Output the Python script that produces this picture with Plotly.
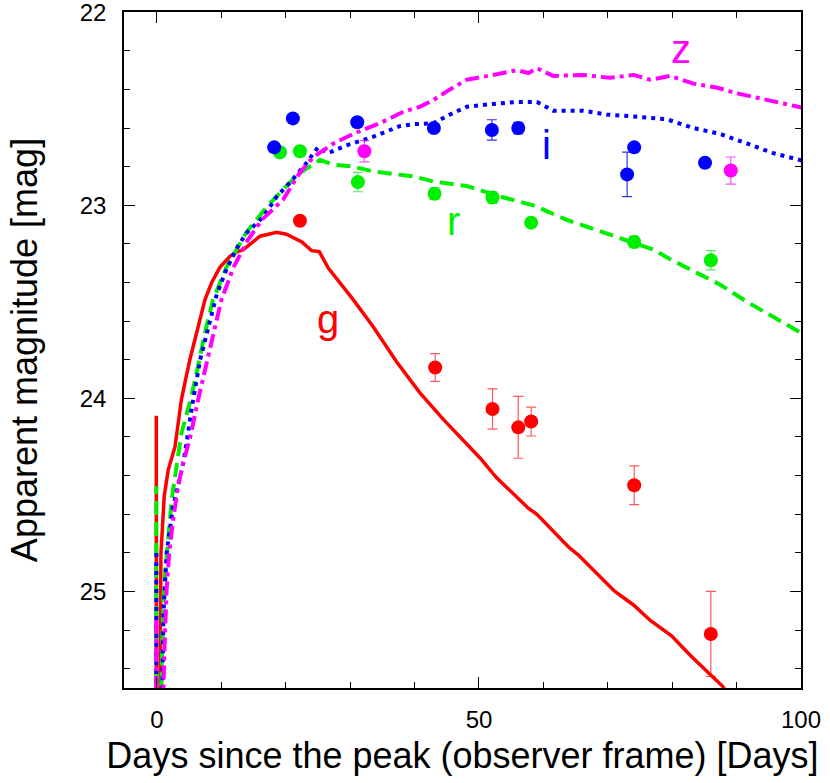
import plotly.graph_objects as go

# ---------------- model light curves (days since peak, apparent magnitude) -------------
g_model_t = [-0.1, -0.1, None, 0.45, 0.5, 0.57, 0.62, 1.13, 1.75, 2.8, 3.8, 5.1, 6.1, 7.45, 8.5, 9.8,
             11.3, 12.1, 13.4, 16.0, 18.6, 20.1, 22.5, 24.0, 25.2, 26.6, 30.5, 33.6, 37.2, 40.8,
             44.5, 46.8, 48.1, 50.2, 52.7, 55.6, 57.7, 59.0, 61.5, 63.9, 65.4, 68.3, 71.1, 74.0,
             76.6, 79.9, 82.8, 85.9, 87.8, 90.0]
g_model_m = [25.8, 24.09, None, 25.6, 25.28, 25.02, 24.80, 24.505, 24.37, 24.25, 24.005, 23.80, 23.66,
             23.49, 23.40, 23.32, 23.265, 23.245, 23.23, 23.16, 23.14, 23.15, 23.19, 23.235, 23.24,
             23.325, 23.49, 23.63, 23.81, 23.97, 24.11, 24.19, 24.24, 24.31, 24.41, 24.50, 24.57,
             24.60, 24.69, 24.77, 24.81, 24.91, 25.00, 25.07, 25.15, 25.23, 25.33, 25.43, 25.49, 25.60]

r_model_t = [-0.1, -0.1, None, 0.6, 1.0, 1.3, 1.75, 2.3, 3.8, 5.2, 6.4, 7.45, 8.7, 10.8, 13.9, 17.0,
             20.1, 22.5, 25.3, 27.4, 30.5, 33.6, 37.2, 39.8, 42.9, 48.1, 53.3, 58.4, 60.5, 63.6,
             66.7, 70.9, 74.0, 77.1, 79.7, 83.2, 87.4, 91.6, 95.7, 99.8, 101.0]
r_model_m = [25.8, 24.455, None, 25.6, 25.04, 24.90, 24.73, 24.52, 24.18, 24.01, 23.83, 23.66, 23.49,
             23.32, 23.14, 23.01, 22.90, 22.825, 22.765, 22.79, 22.80, 22.825, 22.84, 22.85, 22.877,
             22.90, 22.955, 23.00, 23.03, 23.075, 23.11, 23.16, 23.195, 23.23, 23.28, 23.34, 23.41,
             23.50, 23.58, 23.66, 23.68]

i_model_t = [-0.1, -0.1, None, 0.8, 1.0, 1.5, 2.0, 2.5, 3.3, 4.1, 4.6, 5.4, 6.7, 8.0, 9.3, 10.8, 12.6,
             14.0, 16.5, 18.6, 20.7, 23.0, 25.0, 26.6, 29.4, 33.6, 37.7, 39.8, 42.9, 45.5, 48.1,
             52.2, 55.9, 59.0, 61.5, 66.2, 69.8, 74.0, 79.2, 83.3, 87.4, 91.6, 95.7, 99.8, 101.0]
i_model_m = [25.8, 24.78, None, 25.6, 25.12, 24.80, 24.68, 24.56, 24.45, 24.33, 24.23, 24.05, 23.80,
             23.63, 23.46, 23.33, 23.21, 23.14, 23.06, 22.955, 22.88, 22.79, 22.70, 22.73, 22.69,
             22.645, 22.59, 22.58, 22.575, 22.53, 22.49, 22.475, 22.465, 22.465, 22.51, 22.51,
             22.53, 22.54, 22.555, 22.60, 22.63, 22.68, 22.73, 22.765, 22.78]

z_model_t = [-0.1, -0.1, None, 0.9, 1.0, 1.25, 1.5, 1.9, 2.5, 3.3, 4.1, 5.1, 6.4, 7.8, 8.7, 10.0, 11.9,
             14.1, 16.3, 19.6, 22.2, 24.3, 27.4, 30.5, 34.6, 38.3, 40.8, 42.9, 45.5, 48.1, 52.2,
             55.9, 57.7, 59.0, 61.5, 66.2, 70.3, 74.0, 76.6, 79.7, 83.3, 86.9, 90.0, 93.6, 96.7,
             99.8, 101.0]
z_model_m = [25.8, 25.13, None, 25.6, 25.42, 25.21, 24.99, 24.80, 24.63, 24.45, 24.33, 24.21, 24.005,
             23.80, 23.66, 23.49, 23.32, 23.18, 23.075, 22.97, 22.83, 22.75, 22.68, 22.63, 22.575,
             22.515, 22.49, 22.455, 22.40, 22.35, 22.325, 22.30, 22.315, 22.29, 22.33, 22.325,
             22.34, 22.325, 22.35, 22.33, 22.37, 22.39, 22.42, 22.445, 22.47, 22.49, 22.50]

# ---------------- observed photometry -------------
g_obs_t = [22.2, 43.2, 52.1, 56.1, 58.1, 74.1, 86.0]
g_obs_m = [23.08, 23.84, 24.055, 24.15, 24.12, 24.45, 25.22]
g_obs_err = [0.0, 0.072, 0.104, 0.16, 0.075, 0.10, 0.22]

r_obs_t = [19.1, 22.2, 31.2, 43.1, 52.1, 58.1, 74.1, 86.0]
r_obs_m = [22.725, 22.72, 22.88, 22.94, 22.96, 23.09, 23.19, 23.285]
r_obs_err = [0.01, 0.01, 0.05, 0.03, 0.03, 0.02, 0.03, 0.05]

i_obs_t = [18.2, 21.1, 31.1, 43.0, 52.0, 56.1, 73.0, 74.1, 85.1]
i_obs_m = [22.70, 22.55, 22.57, 22.60, 22.61, 22.60, 22.84, 22.70, 22.78]
i_obs_err = [0.02, 0.01, 0.01, 0.01, 0.053, 0.03, 0.115, 0.01, 0.01]

z_obs_t = [32.2, 89.1]
z_obs_m = [22.72, 22.82]
z_obs_err = [0.055, 0.07]

band_labels = ["g", "r", "i", "z"]
label_t = [26.6, 46.0, 60.5, 81.4]
label_m = [23.59, 23.08, 22.69, 22.19]

x_tickvals = [0, 50, 100]
y_tickvals = [22, 23, 24, 25]

RED, GREEN, BLUE, MAGENTA = "#ff0000", "#00ee00", "#0000ff", "#ff00ff"
FONT = "Liberation Sans, Arial, Helvetica, sans-serif"

fig = go.Figure()

# model curves (red first, magenta on top)
fig.add_trace(go.Scatter(x=g_model_t, y=g_model_m, mode="lines", connectgaps=False,
                         line=dict(color=RED, width=3.5), showlegend=False))
fig.add_trace(go.Scatter(x=r_model_t, y=r_model_m, mode="lines", connectgaps=False,
                         line=dict(color=GREEN, width=4, dash="14px,7px"), showlegend=False))
fig.add_trace(go.Scatter(x=i_model_t, y=i_model_m, mode="lines", connectgaps=False,
                         line=dict(color=BLUE, width=4, dash="4px,5px"), showlegend=False))
fig.add_trace(go.Scatter(x=z_model_t, y=z_model_m, mode="lines", connectgaps=False,
                         line=dict(color=MAGENTA, width=4, dash="14px,5px,4px,5px"), showlegend=False))

def obs(t, m, e, col, ecol):
    return go.Scatter(x=t, y=m, mode="markers",
                      marker=dict(color=col, size=14, line=dict(width=0)),
                      error_y=dict(type="data", array=e, visible=True, color=ecol,
                                   thickness=1.2, width=5),
                      showlegend=False)

fig.add_trace(obs(g_obs_t, g_obs_m, g_obs_err, RED, "rgba(255,0,0,0.65)"))
fig.add_trace(obs(r_obs_t, r_obs_m, r_obs_err, GREEN, "rgba(0,220,0,0.65)"))
fig.add_trace(obs(i_obs_t, i_obs_m, i_obs_err, BLUE, "rgba(0,0,230,0.8)"))
fig.add_trace(obs(z_obs_t, z_obs_m, z_obs_err, MAGENTA, "rgba(255,0,255,0.7)"))

label_colors = [RED, GREEN, BLUE, MAGENTA]
for txt, t, m, c in zip(band_labels, label_t, label_m, label_colors):
    fig.add_annotation(x=t, y=m, xref="x", yref="y", text=txt, showarrow=False,
                       font=dict(family=FONT, size=40, color=c))

axis_common = dict(showline=True, linecolor="black", linewidth=1.5, mirror="allticks",
                   ticks="inside", tickcolor="black", tickwidth=1.2, ticklen=11,
                   showgrid=False, zeroline=False, ticklabeloverflow="allow",
                   tickfont=dict(family=FONT, size=24, color="black"))

fig.update_xaxes(range=[-5.12, 100.001], tickvals=x_tickvals,
                 minor=dict(dtick=10, tick0=0, ticks="inside", ticklen=6, tickcolor="black",
                            tickwidth=1.2, showgrid=False),
                 title=dict(text="Days since the peak (observer frame) [Days]",
                            font=dict(family=FONT, size=36, color="black"), standoff=11),
                 ticklabelstandoff=9, **axis_common)
fig.update_yaxes(range=[25.5, 21.999], tickvals=y_tickvals,
                 minor=dict(dtick=0.2, tick0=22, ticks="inside", ticklen=6, tickcolor="black",
                            tickwidth=1.2, showgrid=False),
                 title=dict(text="Apparent magnitude [mag]",
                            font=dict(family=FONT, size=36, color="black"), standoff=31),
                 ticklabelstandoff=11, **axis_common)

fig.update_layout(width=830, height=783, plot_bgcolor="white", paper_bgcolor="white",
                  margin=dict(l=124, r=29, t=12, b=95, autoexpand=False),
                  font=dict(family=FONT, color="black"))

# remove the default 8px page margin so the figure fills the window exactly
fig.write_html("out.html", config={"displayModeBar": False},
               post_script="document.body.style.margin='0';")
